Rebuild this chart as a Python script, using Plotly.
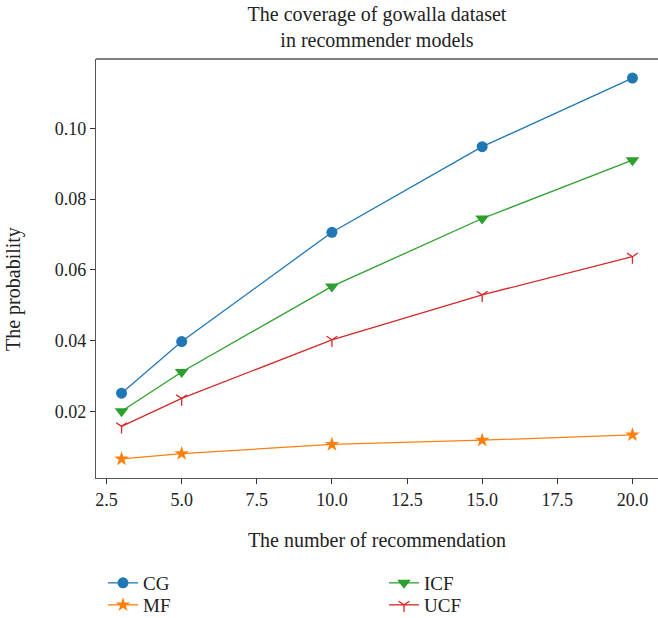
import plotly.graph_objects as go

x_vals = [3, 5, 10, 15, 20]
cg = [0.0251, 0.0397, 0.0706, 0.0948, 0.1142]
mf = [0.0065, 0.0080, 0.0106, 0.0118, 0.0133]
icf = [0.0200, 0.0311, 0.0553, 0.0745, 0.0910]
ucf = [0.0157, 0.0236, 0.0402, 0.0529, 0.0637]

series = [
    ("CG", cg, "#1f77b4", "circle", 11, "legend"),
    ("MF", mf, "#ff7f0e", "star", 11, "legend2"),
    ("ICF", icf, "#2ca02c", "triangle-down", 12, "legend3"),
    ("UCF", ucf, "#d62728", "y-down", 9, "legend4"),
]

FONT = "Liberation Serif"
TXT = "#222222"
fig = go.Figure()
for name, vals, color, sym, size, leg in series:
    mk = dict(symbol=sym, size=size, color=color)
    if sym == "y-down":
        mk["line"] = dict(color=color, width=1.3)
    else:
        mk["line"] = dict(width=0)
    fig.add_trace(go.Scatter(
        x=x_vals, y=vals, name=name, mode="lines+markers",
        line=dict(color=color, width=1.3), marker=mk, legend=leg,
    ))

axis_common = dict(
    showline=True, linecolor="#555555", linewidth=1.3,
    ticks="outside", ticklen=5, tickwidth=1.2, tickcolor="#333333",
    showgrid=False, zeroline=False, automargin=True,
    tickfont=dict(family=FONT, size=18, color=TXT),
)

leg_common = dict(orientation="v", xref="container", yref="container",
                  xanchor="left", yanchor="middle", tracegroupgap=0,
                  bgcolor="rgba(0,0,0,0)",
                  font=dict(family=FONT, size=19, color=TXT))

L, T, B = 96, 59, 140
PH = 618 - T - B
PW = 658 - L

fig.update_layout(
    width=658, height=618,
    paper_bgcolor="white", plot_bgcolor="white",
    margin=dict(l=L, r=0, t=T, b=B, autoexpand=False),
    font=dict(family=FONT, color=TXT),
    title=dict(text="The coverage of gowalla dataset<br>in recommender models",
               x=377/658, xanchor="center", y=1 - 21/618, yanchor="middle",
               font=dict(family=FONT, size=20, color=TXT)),
    xaxis=dict(range=[2.15, 20.85], tickmode="array",
               tickvals=[2.5, 5, 7.5, 10, 12.5, 15, 17.5, 20],
               ticktext=["2.5", "5.0", "7.5", "10.0", "12.5", "15.0", "17.5", "20.0"],
               mirror=False, tickangle=0,
               title=dict(text="The number of recommendation",
                          font=dict(family=FONT, size=20), standoff=24),
               **axis_common),
    yaxis=dict(range=[0.00111, 0.1196], tickmode="array",
               tickvals=[0.02, 0.04, 0.06, 0.08, 0.10],
               ticktext=["0.02", "0.04", "0.06", "0.08", "0.10"],
               **axis_common),
    legend=dict(x=103/658, y=1 - 583/618, **leg_common),
    legend2=dict(x=103/658, y=1 - 605/618, **leg_common),
    legend3=dict(x=384/658, y=1 - 583/618, **leg_common),
    legend4=dict(x=384/658, y=1 - 605/618, **leg_common),
    showlegend=True,
)
fig.add_annotation(text="The probability", textangle=-90, showarrow=False,
                   xref="paper", yref="paper",
                   x=(13 - L) / PW, y=(618 - B - 289) / PH,
                   xanchor="center", yanchor="middle",
                   font=dict(family=FONT, size=20, color=TXT))
# top spine
fig.add_shape(type="line", xref="paper", yref="paper", x0=0, x1=1, y0=1, y1=1,
              line=dict(color="#555555", width=1.3))

fig.write_html("out.html")
